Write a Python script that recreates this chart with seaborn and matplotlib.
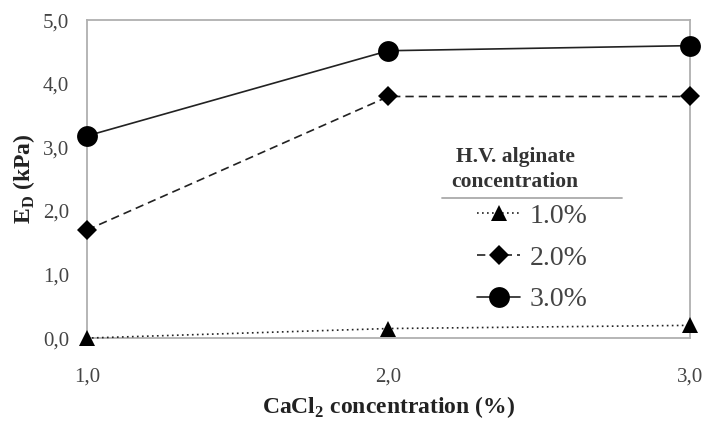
import pandas as pd
import matplotlib
matplotlib.use('Agg')
import matplotlib.pyplot as plt
import seaborn as sns

# Data
cacl2 = [1.0, 2.0, 3.0]
alg_1 = [0.0, 0.15, 0.2]
alg_2 = [1.7, 3.8, 3.8]
alg_3 = [3.18, 4.52, 4.6]
series_labels = ['1.0%', '2.0%', '3.0%']
y_ticks = [0.0, 1.0, 2.0, 3.0, 4.0, 5.0]

df = pd.DataFrame({
    'CaCl2': cacl2 * 3,
    'ED': alg_1 + alg_2 + alg_3,
    'alginate': [s for s in series_labels for _ in cacl2],
})

sns.set_theme(style='white')
plt.rcParams['font.family'] = ['Liberation Serif', 'DejaVu Serif']
plt.rcParams['mathtext.fontset'] = 'custom'
plt.rcParams['mathtext.rm'] = 'Liberation Serif'
plt.rcParams['mathtext.bf'] = 'Liberation Serif:bold'

fig = plt.figure(figsize=(7.07, 4.21), dpi=100)
ax = fig.add_axes([0.123, 0.197, 0.853, 0.755])

sns.lineplot(data=df, x='CaCl2', y='ED', hue='alginate', style='alginate',
             palette=['#222222'] * 3,
             dashes={'1.0%': (1, 2), '2.0%': (5, 3), '3.0%': ''},
             markers={'1.0%': '^', '2.0%': 'D', '3.0%': 'o'},
             ax=ax, linewidth=1.2, clip_on=False, legend=False, zorder=3)

# Marker sizes differ per series
for line, ms in zip(ax.get_lines(), [12, 10, 15]):
    line.set_markersize(ms)
    line.set_markeredgewidth(0)
    line.set_markerfacecolor('black')
    line.set_markeredgecolor('black')

ax.set_xlim(1.0, 3.0)
ax.set_ylim(0.0, 5.0)
ax.set_xticks(cacl2)
ax.set_yticks(y_ticks)
ax.set_xticklabels([f'{v:.1f}'.replace('.', ',') for v in cacl2])
ax.set_yticklabels([f'{v:.1f}'.replace('.', ',') for v in y_ticks])
ax.tick_params(axis='both', labelsize=15, colors='#444444', length=0)
ax.tick_params(axis='x', pad=21)
ax.tick_params(axis='y', pad=13)

for sp in ax.spines.values():
    sp.set_color('#b0b0b0')
    sp.set_linewidth(1.3)

ax.set_xlabel(r'CaCl$_\mathbf{2}$ concentration (%)', fontsize=17,
              fontweight='bold', color='#222222')
ax.xaxis.set_label_coords(0.5, -0.175)
ax.set_ylabel(r'E$_\mathbf{D}$ (kPa)', fontsize=17, fontweight='bold', color='#222222')
ax.yaxis.set_label_coords(-0.083, 0.5)

# Legend built from the drawn lines
handles = ax.get_lines()[:3]
leg = ax.legend(handles, series_labels, loc='center left',
                bbox_to_anchor=(0.647, 0.252), frameon=False,
                borderpad=0, borderaxespad=0,
                fontsize=20, handlelength=1.55, handletextpad=0.35,
                labelspacing=0.58, labelcolor='#444444')
ax.text(0.71, 0.531, 'H.V. alginate\nconcentration', transform=ax.transAxes,
        ha='center', va='center', fontsize=15.5, fontweight='bold',
        color='#333333', linespacing=1.35)
ax.plot([0.589, 0.887], [0.44, 0.44], transform=ax.transAxes,
        color='#aaaaaa', linewidth=1.3, clip_on=False)

fig.savefig('out.png', dpi=100)
